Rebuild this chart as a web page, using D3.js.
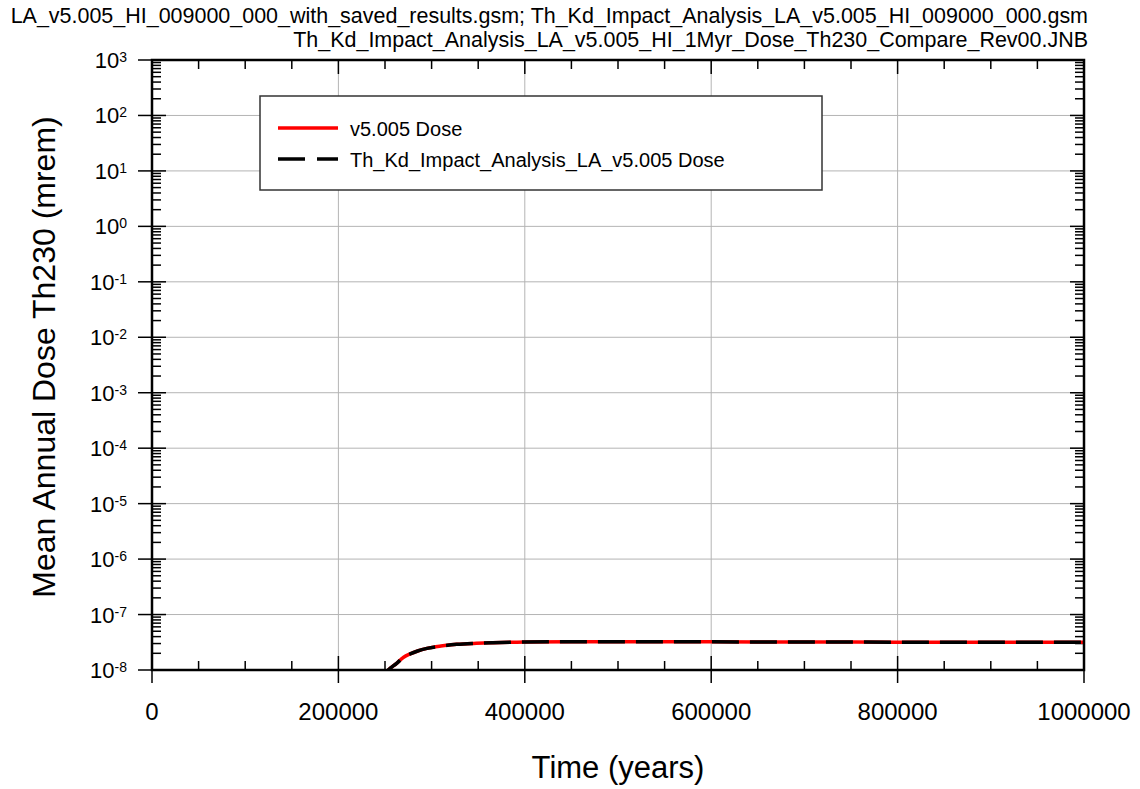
<!DOCTYPE html>
<html lang="en">
<head>
<meta charset="UTF-8">
<title>Th230 Dose Compare</title>
<style>
  body { margin: 0; background: #fff; }
  svg { font-family: 'Liberation Sans', Arial, sans-serif; display: block; }
  .grid line { stroke: #b4b4b4; stroke-width: 1; }
  .frame { fill: none; stroke: #000; stroke-width: 2.5; }
  .tick { stroke: #000; stroke-width: 1.5; }
</style>
</head>
<body>
<svg width="1140" height="789"></svg>
<script src="https://cdn.jsdelivr.net/npm/d3@7"></script>
<script>

  // data
  var titleLines = [
    "LA_v5.005_HI_009000_000_with_saved_results.gsm; Th_Kd_Impact_Analysis_LA_v5.005_HI_009000_000.gsm",
    "Th_Kd_Impact_Analysis_LA_v5.005_HI_1Myr_Dose_Th230_Compare_Rev00.JNB"
  ];
  var seriesNames = ["v5.005 Dose", "Th_Kd_Impact_Analysis_LA_v5.005 Dose"];
  var timeYears = [245000, 253500, 262500, 270000, 277000, 285000, 295000, 310000, 327000,
                   345000, 365000, 400000, 450000, 500000, 600000, 700000, 800000, 900000, 1000000];
  var v5005Dose = [7e-9, 1.0e-8, 1.32e-8, 1.7e-8, 1.95e-8, 2.2e-8, 2.45e-8, 2.7e-8, 2.9e-8,
                   3.02e-8, 3.1e-8, 3.2e-8, 3.24e-8, 3.24e-8, 3.22e-8, 3.2e-8, 3.18e-8, 3.17e-8, 3.15e-8];
  var thKdDose  = [7e-9, 1.0e-8, 1.32e-8, 1.7e-8, 1.95e-8, 2.2e-8, 2.45e-8, 2.7e-8, 2.9e-8,
                   3.02e-8, 3.1e-8, 3.2e-8, 3.24e-8, 3.24e-8, 3.22e-8, 3.2e-8, 3.18e-8, 3.17e-8, 3.15e-8];
  var xTicks = [0, 200000, 400000, 600000, 800000, 1000000];
  var yExponents = [-8, -7, -6, -5, -4, -3, -2, -1, 0, 1, 2, 3];

  var L = 152, R = 1084, T = 60, B = 670;
  var svg = d3.select("svg");

  var x = d3.scaleLinear().domain([0, 1000000]).range([L, R]);
  var y = d3.scaleLog().domain([1e-8, 1e3]).range([B, T]);

  // title, sized so the first line spans the width it has in the picture
  var titles = svg.selectAll("text.title").data(titleLines).enter().append("text")
    .attr("class", "title")
    .attr("x", 1088)
    .attr("y", function (d, i) { return 23 + i * 24; })
    .attr("text-anchor", "end")
    .attr("font-size", 20)
    .text(function (d) { return d; });
  var fs = 20 * (1088 - 10) / titles.nodes()[0].getComputedTextLength();
  titles.attr("font-size", Math.min(fs, 23));

  // grid
  var grid = svg.append("g").attr("class", "grid");
  grid.selectAll("line.gx").data(xTicks.slice(1, -1)).enter().append("line")
    .attr("x1", x).attr("x2", x).attr("y1", T).attr("y2", B);
  grid.selectAll("line.gy").data(yExponents.slice(1, -1)).enter().append("line")
    .attr("x1", L).attr("x2", R)
    .attr("y1", function (d) { return y(Math.pow(10, d)); })
    .attr("y2", function (d) { return y(Math.pow(10, d)); });

  // ticks
  var ticks = svg.append("g");
  var xMinor = d3.range(50000, 1000000, 50000).filter(function (d) { return d % 200000 !== 0; });
  xMinor.forEach(function (d) {
    ticks.append("line").attr("class", "tick").attr("x1", x(d)).attr("x2", x(d)).attr("y1", B).attr("y2", B - 9);
    ticks.append("line").attr("class", "tick").attr("x1", x(d)).attr("x2", x(d)).attr("y1", T).attr("y2", T + 9);
  });
  xTicks.forEach(function (d) {
    ticks.append("line").attr("class", "tick").attr("x1", x(d)).attr("x2", x(d)).attr("y1", B - 14).attr("y2", B + 13);
    ticks.append("line").attr("class", "tick").attr("x1", x(d)).attr("x2", x(d)).attr("y1", T).attr("y2", T + 14);
  });
  yExponents.forEach(function (e) {
    var yy = y(Math.pow(10, e));
    ticks.append("line").attr("class", "tick").attr("x1", L - 14).attr("x2", L + 14).attr("y1", yy).attr("y2", yy);
    ticks.append("line").attr("class", "tick").attr("x1", R - 14).attr("x2", R).attr("y1", yy).attr("y2", yy);
    if (e < 3) {
      d3.range(2, 10).forEach(function (m) {
        var ym = y(m * Math.pow(10, e));
        ticks.append("line").attr("class", "tick").attr("x1", L).attr("x2", L + 9).attr("y1", ym).attr("y2", ym);
        ticks.append("line").attr("class", "tick").attr("x1", R - 9).attr("x2", R).attr("y1", ym).attr("y2", ym);
      });
    }
  });

  // tick labels
  svg.selectAll("text.xt").data(xTicks).enter().append("text")
    .attr("x", x).attr("y", 720)
    .attr("text-anchor", "middle")
    .attr("font-size", 24)
    .text(function (d) { return d; });

  var yl = svg.selectAll("text.yt").data(yExponents).enter().append("text")
    .attr("x", 127)
    .attr("y", function (d) { return y(Math.pow(10, d)) + 8; })
    .attr("text-anchor", "end")
    .attr("font-size", 22);
  yl.append("tspan").text("10");
  yl.append("tspan").attr("font-size", 14).attr("dy", -6).text(function (d) { return d; });

  // axis titles
  svg.append("text")
    .attr("x", 618).attr("y", 778)
    .attr("text-anchor", "middle")
    .attr("font-size", 31)
    .text("Time (years)");
  svg.append("text")
    .attr("transform", "translate(55,357) rotate(-90)")
    .attr("text-anchor", "middle")
    .attr("font-size", 32)
    .text("Mean Annual Dose Th230 (mrem)");

  // curves
  svg.append("clipPath").attr("id", "plotClip").append("rect")
    .attr("x", L).attr("y", T).attr("width", R - L).attr("height", B - T);

  var line = d3.line()
    .x(function (d) { return x(d[0]); })
    .y(function (d) { return y(d[1]); })
    .curve(d3.curveMonotoneX);

  var curves = svg.append("g").attr("clip-path", "url(#plotClip)");
  curves.append("path")
    .datum(d3.zip(timeYears, v5005Dose))
    .attr("d", line)
    .attr("fill", "none").attr("stroke", "#ff0000").attr("stroke-width", 3.5);
  curves.append("path")
    .datum(d3.zip(timeYears, thKdDose))
    .attr("d", line)
    .attr("fill", "none").attr("stroke", "#000").attr("stroke-width", 3.5)
    .attr("stroke-dasharray", "27,11");

  // frame
  svg.append("rect").attr("class", "frame")
    .attr("x", L).attr("y", T).attr("width", R - L).attr("height", B - T);

  // legend
  var lg = svg.append("g");
  lg.append("rect")
    .attr("x", 260).attr("y", 96).attr("width", 562).attr("height", 94)
    .attr("fill", "#fff").attr("stroke", "#333").attr("stroke-width", 1.5);
  var legendStyles = [
    {stroke: "#ff0000", dash: null},
    {stroke: "#000", dash: "27,12"}
  ];
  seriesNames.forEach(function (name, i) {
    var yy = 128 + i * 31;
    lg.append("line")
      .attr("x1", 278).attr("x2", 338).attr("y1", yy).attr("y2", yy)
      .attr("stroke", legendStyles[i].stroke).attr("stroke-width", 3.5)
      .attr("stroke-dasharray", legendStyles[i].dash);
    lg.append("text")
      .attr("x", 350).attr("y", yy + 8)
      .attr("font-size", 20)
      .text(name);
  });

</script>
</body>
</html>
